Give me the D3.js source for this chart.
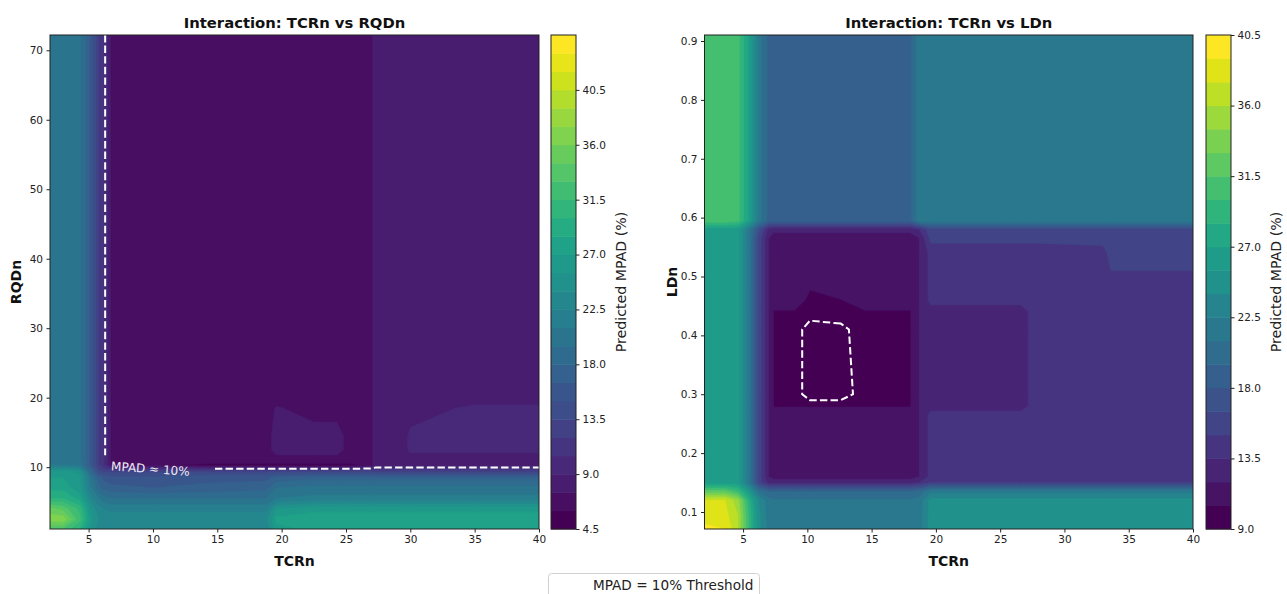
<!DOCTYPE html>
<html><head><meta charset="utf-8">
<script src="https://cdn.jsdelivr.net/npm/d3@7"></script>
<style>body{margin:0;background:#fff}svg{font-family:"DejaVu Sans",sans-serif}</style>
</head><body>
<svg id="chart" width="1287" height="594"></svg>
<script>
// ---------- DATA ----------
// Left panel: TCRn vs RQDn  (grid of predicted MPAD %, rows bottom -> top)
const leftTCRn = [2, 3, 4.3, 5.2, 5.8, 6.2, 6.8, 10, 14.5, 18.8, 19.6, 22.5, 24.3, 25.3, 26.9, 27.3, 29.3, 30, 35, 40];
const leftRQDn = [1.15, 2.5, 4, 5.5, 7, 8.5, 9.4, 10.3, 11, 12.5, 14.5, 18.5, 20, 72.2];
const leftMPAD = [
  [33, 33, 30, 25, 23, 22.8, 22.8, 22.8, 22.8, 22.8, 26.5, 27.5, 27.5, 27.5, 27.5, 27.5, 27.5, 27.5, 27.5, 27.5],
  [37, 37, 32, 26, 24, 23.5, 23.5, 23.5, 23.5, 23.5, 27.5, 28, 28, 28, 28, 28, 28, 28, 28, 28],
  [35, 34, 31, 25, 23, 22.5, 22, 22, 22, 22, 25.5, 26.5, 26.5, 26.5, 26.5, 26.5, 26.5, 26.5, 26.5, 26.5],
  [30, 30, 28, 23, 21, 20, 19.5, 19.5, 19.5, 19.5, 21, 21.5, 21.5, 21.5, 21.5, 21.5, 21.5, 21.5, 21.5, 21.5],
  [28, 28, 26, 21, 18.5, 17.5, 17, 16.5, 17, 17.5, 19.5, 20, 20, 20, 20, 20, 20, 20, 20, 20],
  [27, 27, 26, 20, 17, 16, 15.5, 15.5, 16, 16, 17, 17.5, 17.5, 17.5, 17.5, 17.5, 17.5, 17.5, 17.5, 17.5],
  [26, 26, 25, 18, 14, 13, 13, 13, 13, 13, 13, 13, 13, 13, 13, 12.5, 12.5, 12.5, 12.5, 12.5],
  [21, 21, 20.5, 16, 12, 10.5, 7, 6.5, 5.5, 5.5, 5.5, 5.5, 5.5, 5.5, 6.5, 8.3, 8.3, 8.3, 8.3, 8.3],
  [20.5, 20.5, 20, 16, 12, 10.5, 7, 7, 7, 7, 7, 7, 7, 7, 7, 8.3, 8.3, 8.3, 8.3, 8.3],
  [20.5, 20.5, 20, 16, 12, 10.5, 7, 7, 7, 7, 8, 8, 8, 7, 7, 8.3, 8.3, 9.3, 9.3, 9.3],
  [20.5, 20.5, 20, 16, 12, 10.5, 7, 7, 7, 7, 8, 8, 8, 7, 7, 8.3, 8.3, 9.3, 9.3, 9.3],
  [20.5, 20.5, 20, 16, 12, 10.5, 7, 7, 7, 7, 7.6, 7, 7, 7, 7, 8.3, 8.3, 8.3, 9.3, 9.3],
  [20.5, 20.5, 20, 16, 12, 10.5, 7, 7, 7, 7, 7, 7, 7, 7, 7, 8.3, 8.3, 8.3, 8.3, 8.3],
  [20.5, 20.5, 20, 16, 12, 10.5, 7, 7, 7, 7, 7, 7, 7, 7, 7, 8.3, 8.3, 8.3, 8.3, 8.3]
];
const leftLevels = [4.5, 6, 7.5, 9, 10.5, 12, 13.5, 15, 16.5, 18, 19.5, 21, 22.5, 24, 25.5, 27, 28.5, 30, 31.5, 33, 34.5, 36, 37.5, 39, 40.5, 42, 43.5, 45];
const leftCbTicks = [4.5, 9.0, 13.5, 18.0, 22.5, 27.0, 31.5, 36.0, 40.5];
const leftXTicks = [5, 10, 15, 20, 25, 30, 35, 40];
const leftYTicks = [10, 20, 30, 40, 50, 60, 70];

// Right panel: TCRn vs LDn
const rightTCRn = [2, 3.6, 4.6, 5.4, 6.2, 7, 7.4, 9, 10.2, 12.6, 14.5, 18, 18.7, 19.6, 25.3, 26.6, 27.6, 33, 33.6, 40];
const rightLDn = [0.071, 0.095, 0.12, 0.135, 0.15, 0.16, 0.265, 0.28, 0.3, 0.41, 0.44, 0.46, 0.48, 0.54, 0.565, 0.58, 0.595, 0.911];
const rightMPAD = [
  [39.5, 39, 36, 30, 24.5, 22, 21.7, 21.7, 21.7, 21.7, 21.7, 21.7, 21.7, 24.7, 24.7, 24.7, 24.7, 24.7, 24.7, 24.7],
  [38, 38, 36, 30, 24.5, 21.7, 21.7, 21.7, 21.7, 21.7, 21.7, 21.7, 21.7, 24.7, 24.7, 24.7, 24.7, 24.7, 24.7, 24.7],
  [37.5, 37.5, 35, 29, 24, 21.5, 21.2, 21.2, 21.2, 21.2, 21.2, 21.2, 21.5, 24.5, 24.5, 24.5, 24.5, 24.5, 24.5, 24.5],
  [32, 32, 30, 26, 21, 19.5, 19.5, 19.5, 19.5, 19.5, 19.5, 19.5, 20, 22, 22, 22, 22, 22, 22, 22],
  [26, 26, 26, 22, 16, 13, 13, 13, 13, 13, 13, 13, 13.5, 15, 15, 15, 15, 15, 15, 15],
  [26, 26, 26, 22, 16, 12, 11.2, 11.2, 11.2, 11.2, 11.2, 11.2, 12, 14, 14, 14, 14, 14, 14, 14],
  [26, 26, 26, 22, 16, 12, 11.2, 11.2, 11.2, 11.2, 11.2, 11.2, 12, 14, 14, 14, 14, 14, 14, 14],
  [26, 26, 26, 22, 16, 12, 10.4, 10.4, 10.4, 10.4, 10.4, 10.4, 12, 12.8, 12.8, 12.8, 14, 14, 14, 14],
  [26, 26, 26, 22, 16, 12, 10.4, 10.4, 9.6, 9.6, 10.4, 10.4, 12, 12.8, 12.8, 12.8, 14, 14, 14, 14],
  [26, 26, 26, 22, 16, 12, 10.4, 10.4, 9.6, 9.8, 10.4, 10.4, 12, 12.8, 12.8, 12.8, 14, 14, 14, 14],
  [26, 26, 26, 22, 16, 12, 10.4, 10.4, 10.4, 10.4, 10.4, 10.4, 12, 12.8, 12.8, 12.8, 14, 14, 14, 14],
  [26, 26, 26, 22, 16, 12, 11.2, 11.2, 10.2, 10.45, 11.2, 11.2, 12, 14, 14, 14, 14, 14, 14.5, 14.5],
  [26, 26, 26, 22, 16, 12, 11.2, 11.2, 10.55, 11.2, 11.2, 11.2, 12, 14, 14, 14, 14, 14, 14.5, 14.5],
  [26, 26, 26, 22, 16, 12, 11.2, 11.2, 11.2, 11.2, 11.2, 11.2, 12, 14, 14, 14, 14, 14.5, 15.5, 15.5],
  [26, 26, 26, 22, 16, 12, 11.2, 11.2, 11.2, 11.2, 11.2, 11.2, 12, 15.5, 15.5, 15.5, 15.5, 15.5, 15.5, 15.5],
  [26, 26, 26, 22, 17, 13, 12.5, 12.5, 12.5, 12.5, 12.5, 12.5, 13.5, 16, 16, 16, 16, 16, 16, 16],
  [31, 31, 30.5, 27, 22, 19, 19, 19, 19, 19, 19, 19, 22, 22, 22, 22, 22, 22, 22, 22],
  [31, 31, 30.5, 27, 22, 19, 19, 19, 19, 19, 19, 19, 22, 22, 22, 22, 22, 22, 22, 22]
];
const rightLevels = [9, 10.5, 12, 13.5, 15, 16.5, 18, 19.5, 21, 22.5, 24, 25.5, 27, 28.5, 30, 31.5, 33, 34.5, 36, 37.5, 39, 40.5];
const rightCbTicks = [9.0, 13.5, 18.0, 22.5, 27.0, 31.5, 36.0, 40.5];
const rightXTicks = [5, 10, 15, 20, 25, 30, 35, 40];
const rightYTicks = [0.1, 0.2, 0.3, 0.4, 0.5, 0.6, 0.7, 0.8, 0.9];

const threshold = 10;
const thresholdLabel = "MPAD ≈ 10%";
const legendLabel = "MPAD = 10% Threshold";
// ------------------------------------------------------------

const svg = d3.select("#chart");
const defs = svg.append("defs");
const TICK_FS = 10.5;

function panel(o) {
  const g = svg.append("g");
  const nx = o.xs.length, ny = o.ys.length;
  const values = o.rows.flat();
  const X = d3.scaleLinear().domain(o.xDomain).range([o.left, o.right]);
  const Y = d3.scaleLinear().domain(o.yDomain).range([o.bottom, o.top]);
  const gx = d3.scaleLinear().domain(d3.range(nx).map(i => i + 0.5)).range(o.xs);
  const gy = d3.scaleLinear().domain(d3.range(ny).map(j => j + 0.5)).range(o.ys);
  const proj = d3.geoTransform({point(x, y) { this.stream.point(X(gx(x)), Y(gy(y))); }});
  const path = d3.geoPath(proj);

  defs.append("clipPath").attr("id", o.id + "clip").append("rect")
    .attr("x", o.left).attr("y", o.top).attr("width", o.right - o.left).attr("height", o.bottom - o.top);

  const nb = o.levels.length - 1;
  const color = i => d3.interpolateViridis(i / (nb - 1));
  const bands = d3.contours().size([nx, ny]).thresholds(o.levels.slice(0, -1))(values);
  g.append("g").attr("clip-path", `url(#${o.id}clip)`)
    .selectAll("path").data(bands).join("path")
    .attr("d", path).attr("fill", (d, i) => color(i))
    .attr("stroke", (d, i) => color(i)).attr("stroke-width", 0.6);

  // threshold line (MPAD = 10%)
  const mask = defs.append("mask").attr("id", o.id + "mask");
  mask.append("rect").attr("x", o.left).attr("y", o.top).attr("width", o.right - o.left).attr("height", o.bottom - o.top).attr("fill", "#fff");
  if (o.gap) {
    mask.append("rect").attr("x", X(o.gap[0])).attr("y", Y(o.gap[3]))
      .attr("width", X(o.gap[1]) - X(o.gap[0])).attr("height", Y(o.gap[2]) - Y(o.gap[3])).attr("fill", "#000");
  }
  const iso = d3.contours().size([nx, ny]).contour(values, threshold);
  g.append("path").attr("d", path(iso)).attr("fill", "none").attr("stroke", "#fff")
    .attr("stroke-width", 2).attr("stroke-dasharray", "7.4,3.2").attr("mask", `url(#${o.id}mask)`);
  if (o.label) {
    g.append("text").attr("transform", `translate(${X(o.label[0])},${Y(o.label[1])}) rotate(4)`)
      .attr("text-anchor", "middle").attr("dy", "0.35em").attr("font-size", 12).attr("fill", "#eeeaf5")
      .text(thresholdLabel);
  }

  // frame
  g.append("rect").attr("x", o.left).attr("y", o.top).attr("width", o.right - o.left).attr("height", o.bottom - o.top)
    .attr("fill", "none").attr("stroke", "#222").attr("stroke-width", 1);

  const xa = g.append("g").attr("transform", `translate(0,${o.bottom})`)
    .call(d3.axisBottom(X).tickValues(o.xTicks).tickSize(3.5).tickPadding(3.5).tickFormat(d3.format("d")));
  const ya = g.append("g").attr("transform", `translate(${o.left},0)`)
    .call(d3.axisLeft(Y).tickValues(o.yTicks).tickSize(3.5).tickPadding(3.5).tickFormat(o.yFormat));
  [xa, ya].forEach(a => {
    a.select(".domain").remove();
    a.selectAll("text").attr("font-size", TICK_FS).attr("fill", "#222").attr("font-family", "DejaVu Sans");
    a.selectAll("line").attr("stroke", "#222");
  });

  g.append("text").attr("x", (o.left + o.right) / 2).attr("y", 28).attr("text-anchor", "middle")
    .attr("font-weight", "bold").attr("font-size", 14.8).attr("fill", "#111").text(o.title);
  g.append("text").attr("x", (o.left + o.right) / 2).attr("y", 566).attr("text-anchor", "middle")
    .attr("font-weight", "bold").attr("font-size", 14).attr("fill", "#111").text(o.xLabel);
  g.append("text").attr("transform", `translate(${o.yLabelX},${(o.top + o.bottom) / 2}) rotate(-90)`)
    .attr("text-anchor", "middle").attr("font-weight", "bold").attr("font-size", 14).attr("fill", "#111").text(o.yLabel);

  // colorbar
  const C = d3.scaleLinear().domain([o.levels[0], o.levels[nb]]).range([o.bottom, o.top]);
  const cb = g.append("g");
  cb.selectAll("rect").data(d3.range(nb)).join("rect")
    .attr("x", o.cbLeft).attr("width", o.cbWidth)
    .attr("y", i => C(o.levels[i + 1])).attr("height", i => C(o.levels[i]) - C(o.levels[i + 1]) + 0.5)
    .attr("fill", i => color(i));
  cb.append("rect").attr("x", o.cbLeft).attr("y", o.top).attr("width", o.cbWidth).attr("height", o.bottom - o.top)
    .attr("fill", "none").attr("stroke", "#222").attr("stroke-width", 1);
  const ca = cb.append("g").attr("transform", `translate(${o.cbLeft + o.cbWidth},0)`)
    .call(d3.axisRight(C).tickValues(o.cbTicks).tickSize(3.5).tickPadding(3).tickFormat(d3.format(".1f")));
  ca.select(".domain").remove();
  ca.selectAll("text").attr("font-size", TICK_FS).attr("fill", "#222").attr("font-family", "DejaVu Sans");
  ca.selectAll("line").attr("stroke", "#222");
  cb.append("text").attr("transform", `translate(${o.cbLabelX},${(o.top + o.bottom) / 2}) rotate(-90)`)
    .attr("text-anchor", "middle").attr("font-size", 14.2).attr("fill", "#222").text("Predicted MPAD (%)");
}

panel({
  id: "L", xs: leftTCRn, ys: leftRQDn, rows: leftMPAD, levels: leftLevels,
  xDomain: [2, 40], yDomain: [1.1, 72.2], left: 50, right: 539, top: 35, bottom: 529,
  xTicks: leftXTicks, yTicks: leftYTicks, yFormat: d3.format("d"),
  title: "Interaction: TCRn vs RQDn", xLabel: "TCRn", yLabel: "RQDn", yLabelX: 21,
  cbLeft: 551, cbWidth: 25, cbTicks: leftCbTicks, cbLabelX: 626,
  gap: [5.6, 14.6, 7.5, 11.7], label: [9.8, 9.75]
});
panel({
  id: "R", xs: rightTCRn, ys: rightLDn, rows: rightMPAD, levels: rightLevels,
  xDomain: [2, 40], yDomain: [0.0711, 0.9102], left: 704.5, right: 1193, top: 35, bottom: 529,
  xTicks: rightXTicks, yTicks: rightYTicks, yFormat: d3.format(".1f"),
  title: "Interaction: TCRn vs LDn", xLabel: "TCRn", yLabel: "LDn", yLabelX: 677,
  cbLeft: 1206, cbWidth: 25, cbTicks: rightCbTicks, cbLabelX: 1281
});

// legend
const lg = svg.append("g");
lg.append("rect").attr("x", 548.5).attr("y", 573.5).attr("width", 211).attr("height", 30).attr("rx", 3)
  .attr("fill", "#fff").attr("stroke", "#d0d0d0");
lg.append("line").attr("x1", 558).attr("x2", 586).attr("y1", 585).attr("y2", 585)
  .attr("stroke", "#fff").attr("stroke-width", 2).attr("stroke-dasharray", "7.4,3.2");
lg.append("text").attr("x", 593).attr("y", 590).attr("font-size", 13.6).attr("fill", "#222").text(legendLabel);
</script>
</body></html>
